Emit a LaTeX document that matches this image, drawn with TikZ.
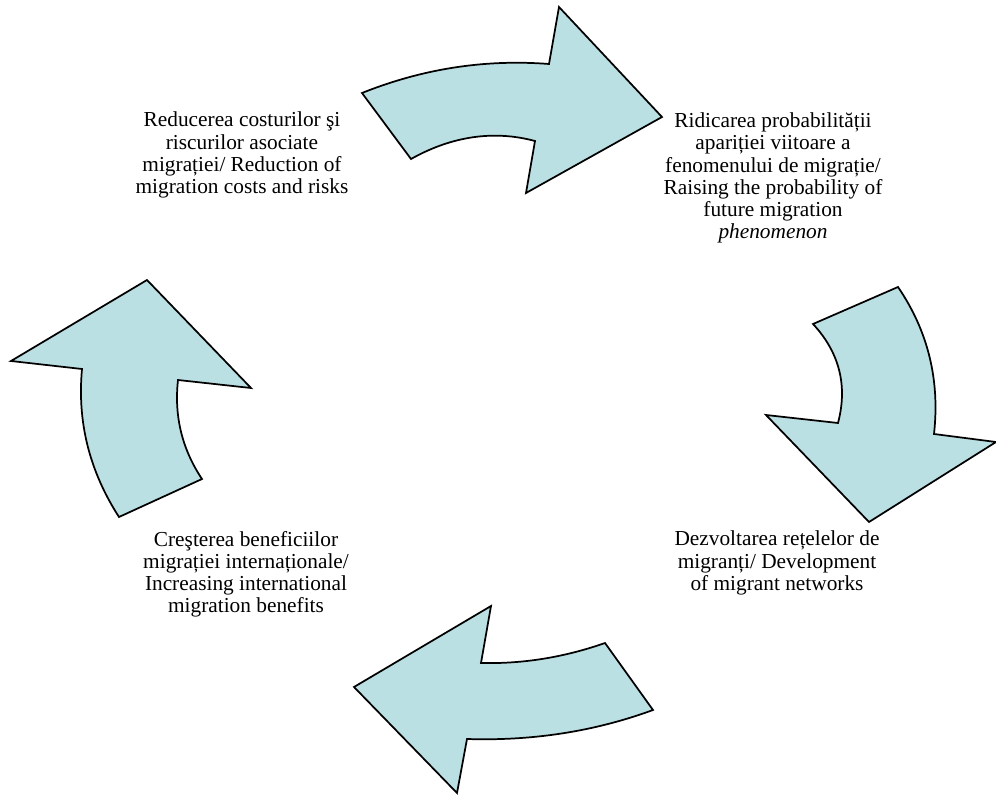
\documentclass[tikz,border=0pt]{standalone}
\usepackage{fontspec}
\setmainfont{Liberation Serif}
\usepackage{tikz}
\definecolor{arrowfill}{HTML}{BBE0E3}
\tikzset{
	bigarrow/.style={draw=black, line width=1.3pt, line join=miter, fill=arrowfill},
	lbl/.style={align=center, inner sep=0pt, font=\fontsize{16pt}{16.6pt}\selectfont}
}

\begin{document}
\begin{tikzpicture}[x=0.75pt, y=-0.75pt]
		%%%%% START %%%%%
		
		\useasboundingbox (0, 0) rectangle (996, 795);
		
		% top arrow, pointing right
		\draw[bigarrow] (362, 93) .. controls (422, 69) and (484, 59) .. (549, 64) -- (559, 7) -- (662, 117) -- (526, 193) -- (535, 141) .. controls (494, 130) and (452, 136) .. (411, 159) -- cycle;
		
		% right arrow, pointing down
		\draw[bigarrow] (813, 324) -- (898, 287) .. controls (928, 331) and (940, 380) .. (934, 434) -- (996, 442) -- (869, 522) -- (766, 415) -- (838, 423) .. controls (848, 385) and (839, 352) .. (813, 324) -- cycle;
		
		% bottom arrow, pointing left
		\draw[bigarrow] (605, 643) .. controls (565, 657) and (524, 664) .. (481, 663) -- (491, 606) -- (354, 687) -- (457, 793) -- (467, 739) .. controls (531, 741) and (593, 732) .. (653, 710) -- cycle;
		
		% left arrow, pointing up
		\draw[bigarrow] (119, 517) -- (202, 479) .. controls (182, 449) and (174, 416) .. (178, 380) -- (251, 388) -- (147, 280) -- (11, 361) -- (82, 369) .. controls (77, 423) and (90, 472) .. (119, 517) -- cycle;
		
		\node[lbl] (reduce) at (242, 155) {Reducerea costurilor şi\\riscurilor asociate\\migrației/ Reduction of\\migration costs and risks};
		
		\node[lbl] (raise) at (773, 178) {Ridicarea probabilității\\apariției viitoare a\\fenomenului de migrație/\\Raising the probability of\\future migration\\\textit{phenomenon}};
		
		\node[lbl] (develop) at (777, 563) {Dezvoltarea rețelelor de\\migranți/ Development\\of migrant networks};
		
		\node[lbl] (increase) at (246, 574) {Creşterea beneficiilor\\migrației internaționale/\\Increasing international\\migration benefits};
		
		%%%%% END %%%%%
	\end{tikzpicture}
\end{document}
